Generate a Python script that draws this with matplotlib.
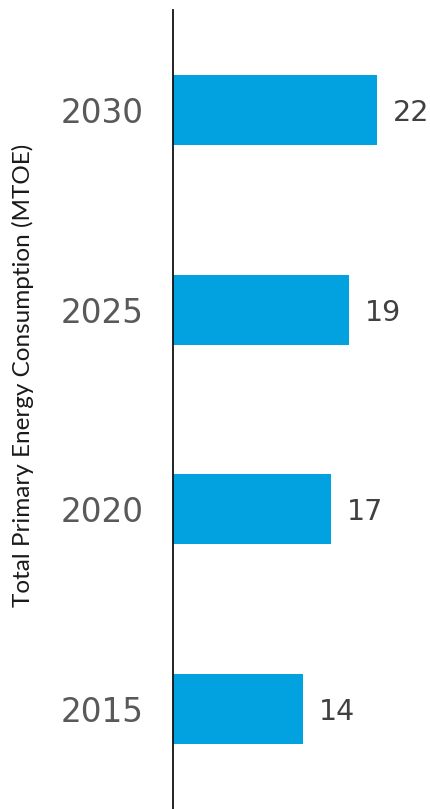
import matplotlib.pyplot as plt

years = ['2015', '2020', '2025', '2030']
values = [14, 17, 19, 22]

fig = plt.figure(figsize=(4.31, 8.09), dpi=100)
ax = fig.add_axes([173 / 431, 0.0, 1 - 173 / 431, (809 - 10) / 809])

pos = range(len(years))
ax.barh(pos, values, height=0.35, color='#02A2E0')
ax.set_ylim(-0.5, 3.5)
ax.set_xlim(0, 27.8)

ax.set_yticks(list(pos))
ax.set_yticklabels(years, fontsize=23.5, color='#595959', family='DejaVu Sans')
ax.tick_params(axis='y', length=0, pad=21)
ax.set_xticks([])

for s in ['top', 'right', 'bottom']:
    ax.spines[s].set_visible(False)
ax.spines['left'].set_linewidth(1.3)
ax.spines['left'].set_color('#111111')

for p, v in zip(pos, values):
    ax.text(v + 1.7, p, str(v), va='center_baseline', ha='left', fontsize=20.5,
            color='#404040', family='DejaVu Sans')

fig.text(23 / 431, 1 - 375 / 809, 'Total Primary Energy Consumption (MTOE)',
         rotation=90, va='center', ha='center', fontsize=17.5, color='#1a1a1a',
         family='Lato')

fig.savefig('out.png', dpi=100)
